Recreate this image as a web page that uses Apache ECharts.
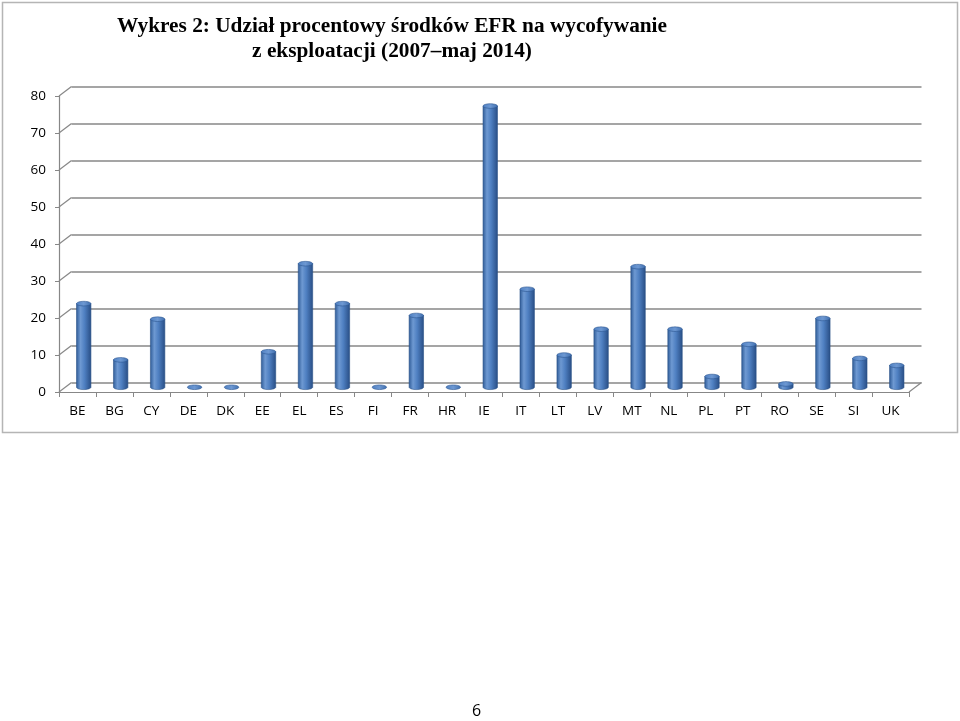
<!DOCTYPE html>
<html>
<head>
<meta charset="utf-8">
<script src="https://cdn.jsdelivr.net/npm/echarts@6/dist/echarts.min.js"></script>
<style>
html,body{margin:0;padding:0;background:#fff;}
#chart{width:960px;height:721px;}
</style>
</head>
<body>
<div id="chart"></div>
<script>
const TITLE_LINES = ['Wykres 2: Udział procentowy środków EFR na wycofywanie', 'z eksploatacji (2007–maj 2014)'];
const CATEGORIES = ['BE','BG','CY','DE','DK','EE','EL','ES','FI','FR','HR','IE','IT','LT','LV','MT','NL','PL','PT','RO','SE','SI','UK'];
const VALUES = [22.6, 7.4, 18.4, 0, 0, 9.6, 33.4, 22.6, 0, 19.4, 0, 76.0, 26.5, 8.7, 15.7, 32.6, 15.7, 2.9, 11.6, 0.9, 18.6, 7.8, 5.9];
const Y_TICKS = [0, 10, 20, 30, 40, 50, 60, 70, 80];
const PAGE_NUMBER = '6';

const DEPTH_X = 12.5, DEPTH_Y = -9.5;
const GRID_COLOR = '#878787';
const LABEL_FONT = '"Open Sans", "Liberation Sans", sans-serif';

function ellipsePts(cx, cy, a, b, from, to, n) {
  const pts = [];
  for (let k = 0; k <= n; k++) {
    const t = from + (to - from) * k / n;
    pts.push([cx + a * Math.cos(t), cy + b * Math.sin(t)]);
  }
  return pts;
}

function renderBar(params, api) {
  const i = api.value(0), v = api.value(1);
  const top = api.coord([i, v]);
  const base = api.coord([i, 0]);
  const w = api.size([1, 0])[0] * 0.39;
  const a = w / 2, b = 2.3;
  const cx = top[0] + DEPTH_X / 2;
  const ty = top[1] + DEPTH_Y / 2;
  const by = base[1] + DEPTH_Y / 2;
  const children = [];
  if (by - ty > 0.5) {
    const body = [[cx - a, ty]].concat(ellipsePts(cx, by, a, b, Math.PI, 0, 20)).concat([[cx + a, ty]]);
    children.push({
      type: 'polygon',
      shape: { points: body },
      style: {
        fill: new echarts.graphic.LinearGradient(0, 0, 1, 0, [
          { offset: 0, color: '#2d5a96' },
          { offset: 0.28, color: '#6e99d2' },
          { offset: 0.55, color: '#4f80c2' },
          { offset: 1, color: '#284d84' }
        ]),
        stroke: '#2a5288',
        lineWidth: 0.6
      }
    });
  }
  children.push({
    type: 'polygon',
    shape: { points: ellipsePts(cx, ty, a, b, 0, Math.PI * 2, 28) },
    style: {
      fill: new echarts.graphic.LinearGradient(0, 0, 1, 0, [
        { offset: 0, color: '#4f80c2' },
        { offset: 0.5, color: '#6d98d2' },
        { offset: 1, color: '#3f6eae' }
      ]),
      stroke: '#2c5590',
      lineWidth: 0.6
    }
  });
  return { type: 'group', children: children };
}

function renderDiag(params, api) {
  const v = api.value(0);
  const p = api.coord([0, v]);
  const cs = params.coordSys;
  const y = p[1];
  const children = [{
    type: 'line',
    shape: { x1: cs.x, y1: y, x2: cs.x + DEPTH_X, y2: y + DEPTH_Y },
    style: { stroke: GRID_COLOR, lineWidth: 1.2 }
  }];
  if (v === 0) {
    children.push({
      type: 'line',
      shape: { x1: cs.x + cs.width, y1: y, x2: cs.x + cs.width + DEPTH_X, y2: y + DEPTH_Y },
      style: { stroke: GRID_COLOR, lineWidth: 1.2 }
    });
  }
  return { type: 'group', children: children };
}

const chart = echarts.init(document.getElementById('chart'), null, { renderer: 'canvas' });

const FRONT = { left: 59, right: 51, top: 96, bottom: 329 };
const BACK = { left: 59 + DEPTH_X, right: 51 - DEPTH_X, top: 96 + DEPTH_Y, bottom: 329 - DEPTH_Y };

chart.setOption({
  animation: false,
  backgroundColor: '#ffffff',
  title: {
    text: TITLE_LINES.join('\n'),
    left: 387,
    textAlign: 'center',
    top: 9,
    textStyle: {
      fontFamily: '"Liberation Serif", "Times New Roman", serif',
      fontWeight: 'bold',
      fontSize: 21.3,
      lineHeight: 25,
      color: '#000'
    }
  },
  graphic: [
    {
      type: 'rect',
      shape: { x: 2.5, y: 2.5, width: 955, height: 430 },
      style: { fill: 'none', stroke: '#b5b5b5', lineWidth: 1.5 },
      z: -10
    },
    {
      type: 'text',
      left: 472,
      top: 703,
      style: { text: PAGE_NUMBER, fontFamily: LABEL_FONT, fontSize: 16, fill: '#000' }
    }
  ],
  grid: [
    Object.assign({ containLabel: false }, FRONT),
    Object.assign({ containLabel: false }, BACK)
  ],
  xAxis: [
    {
      type: 'category',
      gridIndex: 0,
      data: CATEGORIES,
      boundaryGap: true,
      axisLine: { show: true, lineStyle: { color: GRID_COLOR, width: 1.2 } },
      axisTick: { show: true, alignWithLabel: false, length: 5, lineStyle: { color: GRID_COLOR } },
      axisLabel: { margin: 12, fontFamily: LABEL_FONT, fontSize: 13.5, color: '#000', interval: 0 },
      splitLine: { show: false }
    },
    {
      type: 'category',
      gridIndex: 1,
      data: CATEGORIES,
      show: false
    }
  ],
  yAxis: [
    {
      type: 'value',
      gridIndex: 0,
      min: 0,
      max: 80,
      interval: 10,
      axisLine: { show: true, lineStyle: { color: GRID_COLOR, width: 1.2 } },
      axisTick: { show: true, length: 4, lineStyle: { color: GRID_COLOR } },
      axisLabel: { margin: 13, fontFamily: LABEL_FONT, fontSize: 13.5, color: '#000' },
      splitLine: { show: false }
    },
    {
      type: 'value',
      gridIndex: 1,
      min: 0,
      max: 80,
      interval: 10,
      axisLine: { show: false },
      axisTick: { show: false },
      axisLabel: { show: false },
      splitLine: { show: true, lineStyle: { color: GRID_COLOR, width: 1.5 } }
    }
  ],
  series: [
    {
      type: 'custom',
      xAxisIndex: 0,
      yAxisIndex: 0,
      renderItem: renderDiag,
      data: Y_TICKS.map(function (t) { return [t]; }),
      encode: { y: 0 },
      silent: true,
      z: 1
    },
    {
      type: 'custom',
      xAxisIndex: 0,
      yAxisIndex: 0,
      renderItem: renderBar,
      data: CATEGORIES.map(function (c, i) { return [i, VALUES[i]]; }),
      encode: { x: 0, y: 1 },
      silent: true,
      z: 5
    }
  ]
});
</script>
</body>
</html>
